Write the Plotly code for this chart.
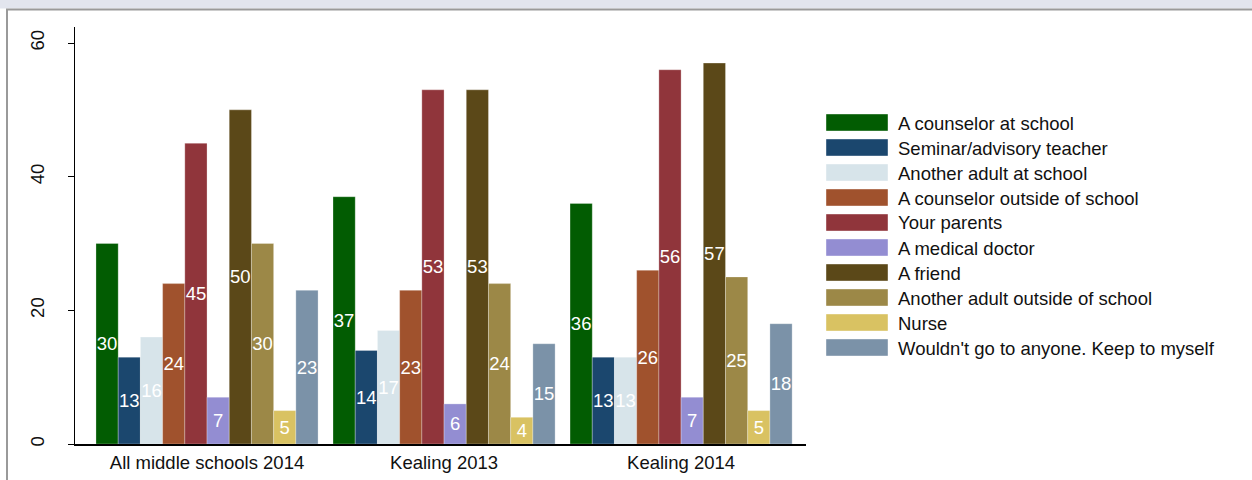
import plotly.graph_objects as go

groups = ["All middle schools 2014", "Kealing 2013", "Kealing 2014"]
series = [
    "A counselor at school",
    "Seminar/advisory teacher",
    "Another adult at school",
    "A counselor outside of school",
    "Your parents",
    "A medical doctor",
    "A friend",
    "Another adult outside of school",
    "Nurse",
    "Wouldn't go to anyone. Keep to myself",
]
counselor_school = [30, 37, 36]
seminar_teacher = [13, 14, 13]
adult_school = [16, 17, 13]
counselor_outside = [24, 23, 26]
parents = [45, 53, 56]
medical_doctor = [7, 6, 7]
friend = [50, 53, 57]
adult_outside = [30, 24, 25]
nurse = [5, 4, 5]
no_one = [23, 15, 18]
values = [counselor_school, seminar_teacher, adult_school, counselor_outside, parents,
          medical_doctor, friend, adult_outside, nurse, no_one]
colors = ["#025c02", "#1b476e", "#d7e4ea", "#a0522d", "#90353b",
          "#938dd2", "#5b4818", "#9c8847", "#d9c262", "#7b92a8"]
yticks = [0, 20, 40, 60]

FONT = "Liberation Sans, Arial, sans-serif"
FS = 18.5
W, H = 1252, 480
# plot area in screen pixels (page body margin removed below)
SL, SR, ST, SB = 75, 806, 27, 444

def px(xs_):
    return (xs_ - SL) / (SR - SL)

def py(ys_):
    return (SB - ys_) / (SB - ST)

fig = go.Figure()
xs = list(range(len(groups)))
for name, vals, col in zip(series, values, colors):
    fig.add_trace(go.Bar(
        x=xs, y=vals, name=name,
        marker=dict(color=col, line=dict(color="rgba(255,255,255,0.35)", width=0.8)),
        text=[str(v) for v in vals],
        textposition="inside", insidetextanchor="middle", textangle=0,
        textfont=dict(color="white", size=FS, family=FONT),
        showlegend=False,
    ))

shapes = []
annotations = []
# custom legend built from series names and colours
for i, (name, col) in enumerate(zip(series, colors)):
    y0 = 114 + 25 * i
    shapes.append(dict(type="rect", xref="paper", yref="paper",
                       x0=px(826), x1=px(888), y0=py(y0 + 17), y1=py(y0),
                       fillcolor=col, line=dict(color="rgba(255,255,255,0.5)", width=0.8)))
    annotations.append(dict(xref="paper", yref="paper", x=px(896), y=py(y0 + 9),
                            xanchor="left", yanchor="middle", showarrow=False,
                            text=name, font=dict(size=FS, color="#111", family=FONT)))

# outer frame decoration
shapes.append(dict(type="rect", xref="paper", yref="paper", x0=px(0), x1=px(W),
                   y0=py(8.5), y1=py(0), fillcolor="#e2e5ee", line=dict(width=0), layer="below"))
shapes.append(dict(type="line", xref="paper", yref="paper", x0=px(6), x1=px(W),
                   y0=py(9.5), y1=py(9.5), line=dict(color="#9a9a9a", width=2)))
shapes.append(dict(type="line", xref="paper", yref="paper", x0=px(7), x1=px(7),
                   y0=py(9.5), y1=py(H), line=dict(color="#9a9a9a", width=2)))

fig.update_layout(
    width=W, height=H,
    margin=dict(l=SL, r=W - SR, t=ST, b=H - SB, pad=0, autoexpand=False),
    paper_bgcolor="white", plot_bgcolor="white",
    barmode="group", bargap=0.063, bargroupgap=0,
    uniformtext=dict(minsize=FS, mode="show"),
    font=dict(family=FONT, size=FS, color="#111"),
    shapes=shapes, annotations=annotations,
    xaxis=dict(range=[-0.557, 2.527], tickvals=xs, ticktext=groups,
               showline=True, linecolor="black", linewidth=1.5, automargin=False,
               showgrid=False, zeroline=False, ticks="", ticklabelstandoff=1,
               tickfont=dict(size=FS, color="#111", family=FONT)),
    yaxis=dict(range=[0, 62.4], tickvals=yticks, automargin=False,
               showline=True, linecolor="black", linewidth=1,
               showgrid=False, zeroline=False, ticks="outside", ticklen=6,
               tickcolor="black", tickangle=-90, ticklabelstandoff=17,
               tickfont=dict(size=FS, color="#111", family=FONT)),
)

fig.write_html("out.html", config={"displayModeBar": False},
               post_script="document.body.style.margin='0';document.body.style.overflow='hidden';")
